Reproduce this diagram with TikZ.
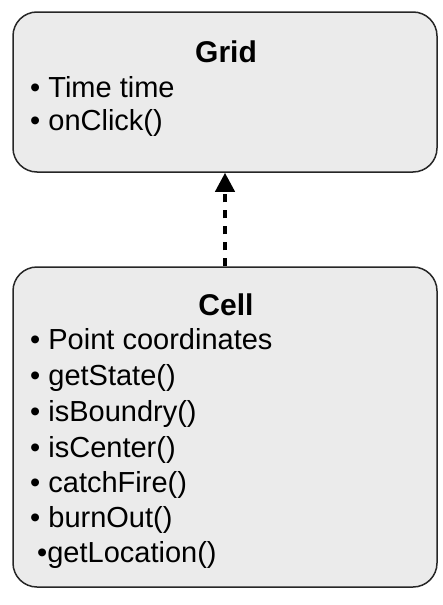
\documentclass[tikz,border=0pt]{standalone}
\usepackage{fontspec}
\setmainfont{Liberation Sans}
\usetikzlibrary{arrows.meta}
\definecolor{boxfill}{HTML}{EBEBEB}

\begin{document}
\begin{tikzpicture}[x=1pt, y=-1pt,
    classbox/.style={draw=black!85, line width=1.5pt, fill=boxfill,
        rounded corners=24pt, inner sep=0pt},
    ttl/.style={font=\fontsize{30}{34}\selectfont\bfseries, anchor=base, inner sep=0pt},
    item/.style={font=\fontsize{29}{34}\selectfont, anchor=base west, inner sep=0pt},
    dep/.style={-{Triangle[length=19pt, width=19pt]}, line width=4pt,
        dash pattern=on 8pt off 8pt},
]
\useasboundingbox (0,0) rectangle (442,605);

% === Class: Grid ===
\node[classbox, minimum width=424pt, minimum height=160pt] (grid) at (225,92) {};
\node[ttl] (gridname) at (226,62) {Grid};
\node[item] (gridA) at (30,97) {• Time time};
\node[item] (gridB) at (30,130) {• onClick()};

% === Class: Cell ===
\node[classbox, minimum width=424pt, minimum height=320pt] (cell) at (225,427) {};
\node[ttl] (cellname) at (226,315) {Cell};
\node[item] (cellA) at (30,349) {• Point coordinates};
\node[item] (cellB) at (30,385) {• getState()};
\node[item] (cellC) at (30,421) {• isBoundry()};
\node[item] (cellD) at (30,457) {• isCenter()};
\node[item] (cellE) at (30,492) {• catchFire()};
\node[item] (cellF) at (30,527) {• burnOut()};
\node[item] (cellG) at (37,562) {•getLocation()};

% Dependency
\draw[dep] (cell.north) -- (grid.south);

\end{tikzpicture}
\end{document}
